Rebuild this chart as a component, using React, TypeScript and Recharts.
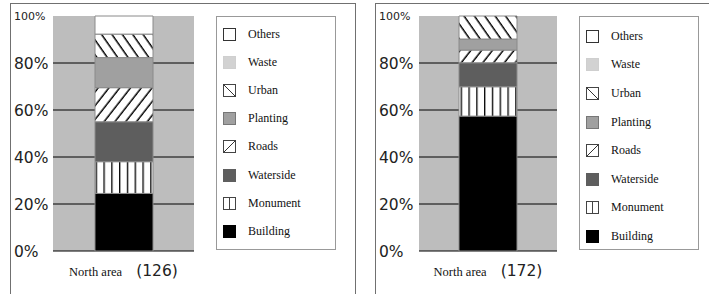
import { Bar, BarChart, CartesianGrid, Legend, XAxis, YAxis } from 'recharts';

// stack order, bottom to top (legend lists them top to bottom)
const SERIES = ['Building', 'Monument', 'Waterside', 'Roads', 'Planting', 'Urban', 'Waste', 'Others'];
const CATEGORY = 'North area';
const PANEL_COUNTS = [126, 172];
const VALUES_126 = [24.5, 13.5, 17, 14.5, 12.8, 10, 0, 7.7];
const VALUES_172 = [57.4, 12.5, 10.2, 5.4, 4.7, 9.8, 0, 0];
const Y_TICKS = [0, 20, 40, 60, 80, 100];
const GRID_VALUES = [0, 20, 40, 60, 80];

const SANS = '"DejaVu Sans", sans-serif';
const SERIF = '"Liberation Serif", "Times New Roman", serif';

function fillFor(name: string, id: string) {
  switch (name) {
    case 'Building':
      return '#000';
    case 'Monument':
      return `url(#${id}-vert)`;
    case 'Waterside':
      return '#5e5e5e';
    case 'Roads':
      return `url(#${id}-fwd)`;
    case 'Planting':
      return '#a0a0a0';
    case 'Waste':
      return '#d2d2d2';
    case 'Urban':
      return `url(#${id}-back)`;
    default:
      return '#fff';
  }
}

function Swatch({ name }: { name: string }) {
  const solid: Record<string, [string, string]> = {
    Others: ['#fff', '#333'],
    Waste: ['#d2d2d2', '#cfcfcf'],
    Planting: ['#a0a0a0', '#777'],
    Waterside: ['#5e5e5e', '#5e5e5e'],
    Building: ['#000', '#000'],
  };
  const [fill, stroke] = solid[name] ?? ['#fff', '#444'];
  return (
    <svg width={13} height={13} style={{ display: 'block' }}>
      <rect x={0.5} y={0.5} width={12} height={12} fill={fill} stroke={stroke} />
      {name === 'Urban' && <line x1={0.5} y1={0.5} x2={12.5} y2={12.5} stroke="#333" />}
      {name === 'Roads' && <line x1={0.5} y1={12.5} x2={12.5} y2={0.5} stroke="#333" />}
      {name === 'Monument' && <line x1={6.5} y1={0.5} x2={6.5} y2={12.5} stroke="#444" />}
    </svg>
  );
}

function LegendBox({ padTop, row }: { padTop: number; row: number }) {
  return (
    <div
      style={{
        boxSizing: 'border-box',
        width: 120,
        height: 234,
        border: '1px solid #999',
        background: '#fff',
        paddingTop: padTop,
      }}
    >
      {[...SERIES].reverse().map((s) => (
        <div key={s} style={{ display: 'flex', alignItems: 'center', height: row }}>
          <div style={{ width: 6 }} />
          <Swatch name={s} />
          <span style={{ marginLeft: 12, fontFamily: SERIF, fontSize: 12, color: '#111' }}>{s}</span>
        </div>
      ))}
    </div>
  );
}

function YTick(props: any) {
  const { y, payload } = props;
  const top = payload.value === 100;
  return (
    <text x={14} y={y} dy={top ? 4 : 6} textAnchor="start" fontFamily={SANS} fontSize={top ? 11 : 15.5} fill="#222">
      {`${payload.value}%`}
    </text>
  );
}

function Panel({
  id,
  values,
  count,
  left,
  plotLeft,
  plotRight,
  legendPad,
  legendRow,
}: {
  id: string;
  values: number[];
  count: number;
  left: number;
  plotLeft: number;
  plotRight: number;
  legendPad: number;
  legendRow: number;
}) {
  const width = 355;
  const row: Record<string, string | number> = { name: CATEGORY };
  SERIES.forEach((s, i) => (row[s] = values[i]));
  const data = [row];

  const XTick = (p: any) => (
    <text x={p.x} y={p.y} dy={17} textAnchor="middle" fill="#111">
      <tspan fontFamily={SERIF} fontSize={12.5}>
        {p.payload.value}
      </tspan>
      <tspan dx={14} fontFamily={SANS} fontSize={15.5} fill="#222">
        ({count})
      </tspan>
    </text>
  );

  return (
    <div style={{ position: 'absolute', left, top: 0, width, height: 294 }}>
      <BarChart
        width={width}
        height={294}
        data={data}
        margin={{ top: 16, right: width - plotRight, bottom: 0, left: plotLeft - 40 }}
      >
        <defs>
          <pattern id={`${id}-vert`} patternUnits="userSpaceOnUse" width={7.8} height={10} x={2}>
            <rect width={7.8} height={10} fill="#fff" />
            <line x1={0.7} y1={0} x2={0.7} y2={10} stroke="#000" strokeWidth={1.3} />
          </pattern>
          <pattern id={`${id}-fwd`} patternUnits="userSpaceOnUse" width={8.5} height={8.5} patternTransform="rotate(38)">
            <rect width={8.5} height={8.5} fill="#fff" />
            <line x1={4} y1={0} x2={4} y2={8.5} stroke="#000" strokeWidth={1.5} />
          </pattern>
          <pattern id={`${id}-back`} patternUnits="userSpaceOnUse" width={8.5} height={8.5} patternTransform="rotate(-35)">
            <rect width={8.5} height={8.5} fill="#fff" />
            <line x1={4} y1={0} x2={4} y2={8.5} stroke="#000" strokeWidth={1.5} />
          </pattern>
        </defs>
        <CartesianGrid
          vertical={false}
          horizontalValues={GRID_VALUES}
          fill="#bdbdbd"
          fillOpacity={1}
          stroke="#000"
          strokeOpacity={1}
        />
        <XAxis dataKey="name" axisLine={false} tickLine={false} height={43} tick={XTick} interval={0} />
        <YAxis
          domain={[0, 100]}
          ticks={Y_TICKS}
          width={40}
          axisLine={false}
          tickLine={false}
          tick={YTick}
          interval={0}
        />
        <Legend
          layout="horizontal"
          align="center"
          verticalAlign="middle"
          width={120}
          height={234}
          wrapperStyle={{ left: plotRight + 22, top: 16, width: 120, height: 234 }}
          content={() => <LegendBox padTop={legendPad} row={legendRow} />}
        />
        {SERIES.map((s) => (
          <Bar
            key={s}
            dataKey={s}
            stackId="a"
            fill={fillFor(s, id)}
            stroke="#8a8a8a"
            strokeWidth={1}
            barSize={58}
            isAnimationActive={false}
          />
        ))}
      </BarChart>
    </div>
  );
}

export default function App() {
  const frame = '1.5px solid #707070';
  return (
    <div
      style={{
        position: 'fixed',
        left: 0,
        top: 0,
        width: 709,
        height: 294,
        overflow: 'hidden',
        background: '#fff',
      }}
    >
      <div
        style={{
          position: 'absolute',
          left: 10,
          top: 3,
          width: 344,
          height: 320,
          borderLeft: frame,
          borderTop: frame,
          borderRight: frame,
        }}
      />
      <div
        style={{
          position: 'absolute',
          left: 375,
          top: 3,
          width: 400,
          height: 320,
          borderLeft: frame,
          borderTop: frame,
        }}
      />
      <Panel
        id="p126"
        values={VALUES_126}
        count={PANEL_COUNTS[0]}
        left={0}
        plotLeft={53}
        plotRight={194}
        legendPad={3}
        legendRow={28.2}
      />
      <Panel
        id="p172"
        values={VALUES_172}
        count={PANEL_COUNTS[1]}
        left={365}
        plotLeft={54}
        plotRight={192}
        legendPad={5}
        legendRow={28.6}
      />
    </div>
  );
}
